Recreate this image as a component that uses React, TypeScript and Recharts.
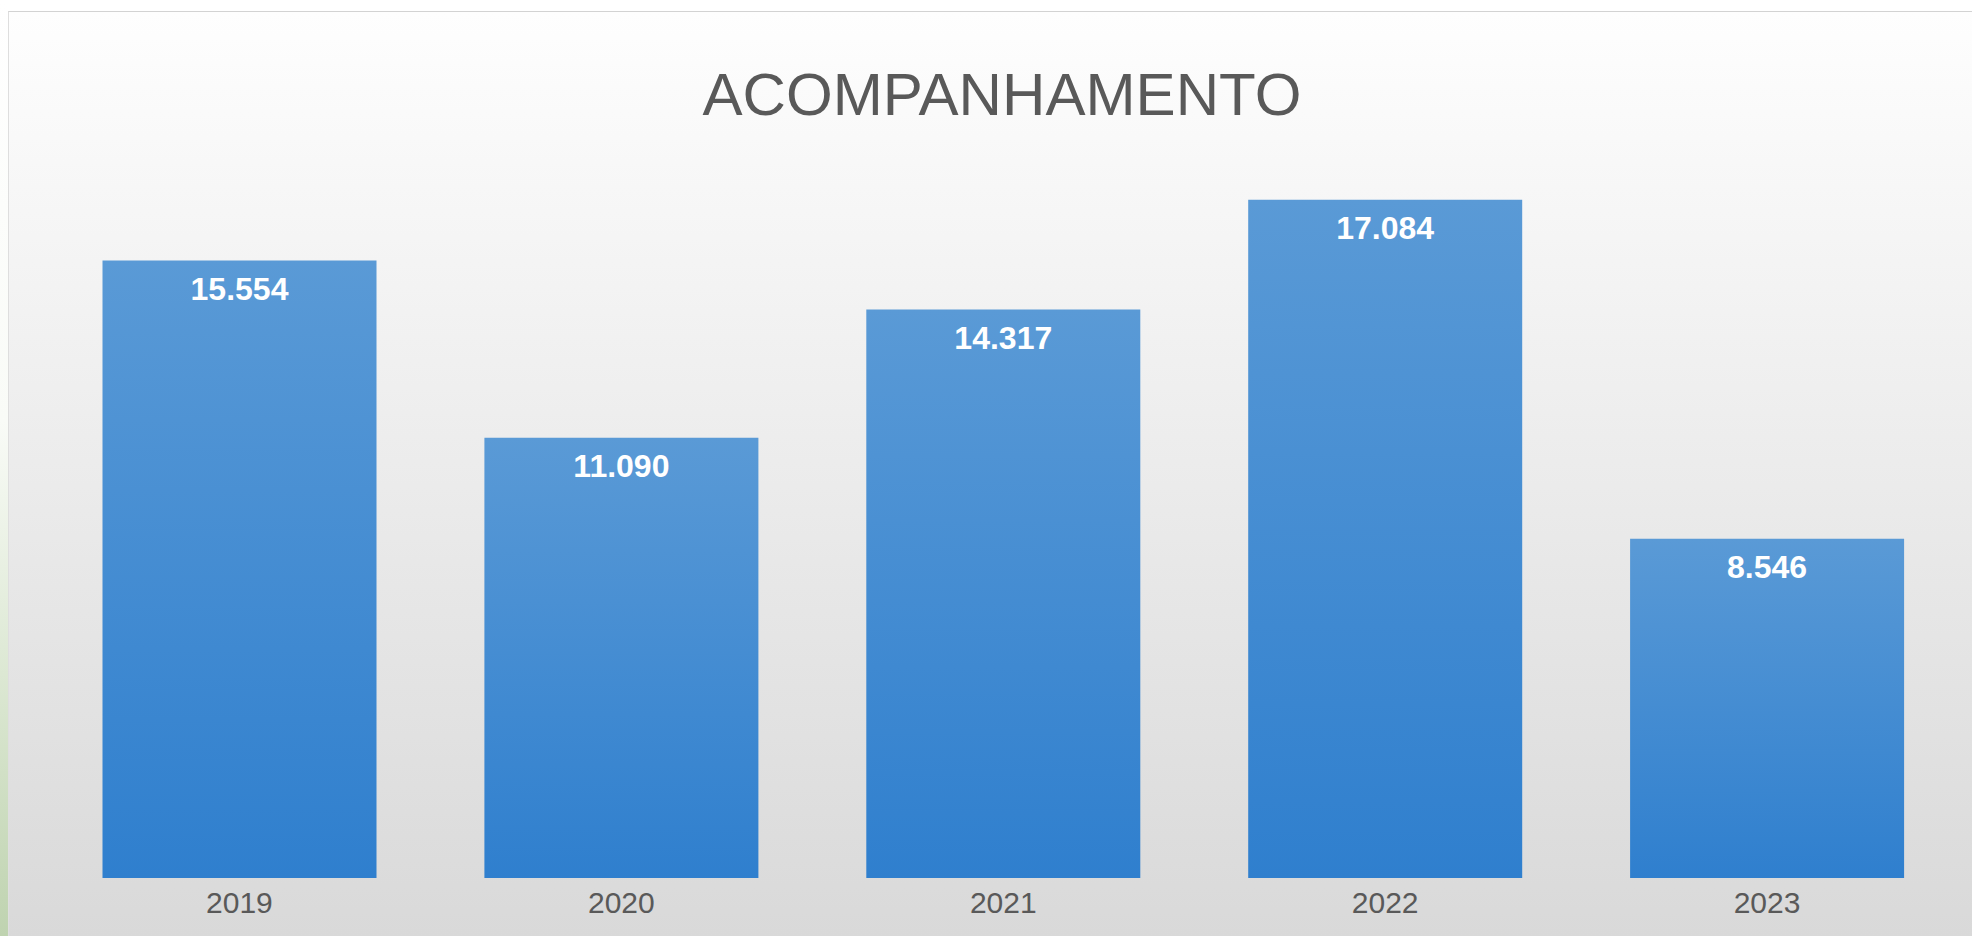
import { BarChart, Bar, XAxis, YAxis, LabelList } from 'recharts'

const years = ['2019', '2020', '2021', '2022', '2023']
const totals = [15554, 11090, 14317, 17084, 8546]

const data = years.map((year, i) => ({ year, total: totals[i] }))

// thousands separator with a dot, e.g. 15554 -> 15.554
const fmt = (v: number) => String(v).replace(/\B(?=(\d{3})+(?!\d))/g, '.')

const FONT = '"Liberation Sans", Arial, sans-serif'

export default function App() {
    return (
        <div style={{ position: 'fixed', left: 0, top: 0, width: 1972, height: 936, background: '#ffffff', overflow: 'hidden' }}>
            {/* green strip on the far left */}
            <div style={{ position: 'absolute', left: 0, top: 0, width: 8, height: 936, background: 'linear-gradient(to bottom, #ffffff 0%, #f9fbf7 45%, #dce8d3 72%, #bfd3b0 100%)' }} />
            <div
                style={{
                    position: 'absolute',
                    left: 8,
                    top: 11,
                    width: 1964,
                    height: 925,
                    borderTop: '1px solid #d3d3d3',
                    borderLeft: '1px solid #dedede',
                    boxSizing: 'border-box',
                    background: 'linear-gradient(to bottom, #fefefe 0%, #d9d9d9 100%)',
                }}
            >
                <svg width={1964} height={925} style={{ position: 'absolute', left: -1, top: -1 }}>
                    <text x={994} y={104} textAnchor="middle" fontFamily={FONT} fontSize={59} fill="#595959" textLength={599} lengthAdjust="spacingAndGlyphs">
                        ACOMPANHAMENTO
                    </text>
                </svg>
                <div style={{ position: 'absolute', left: -1, top: -1 }}>
                    <BarChart width={1964} height={925} data={data} margin={{ top: 73, right: 14, bottom: 0, left: 40.5 }}>
                        <defs>
                            <linearGradient id="barFill" x1="0" y1="0" x2="0" y2="1">
                                <stop offset="0%" stopColor="#5a9ad6" />
                                <stop offset="100%" stopColor="#2f7fce" />
                            </linearGradient>
                        </defs>
                        <XAxis
                            dataKey="year"
                            height={58}
                            axisLine={false}
                            tickLine={false}
                            tickSize={0}
                            tickMargin={14}
                            tick={{ fill: '#595959', fontSize: 30, fontFamily: FONT }}
                        />
                        <YAxis hide domain={[0, 20000]} />
                        <Bar dataKey="total" fill="url(#barFill)" barSize={274} isAnimationActive={false}>
                            <LabelList
                                dataKey="total"
                                position="insideTop"
                                offset={17}
                                formatter={(v: number) => fmt(v)}
                                fill="#ffffff"
                                fontSize={32}
                                fontWeight="bold"
                                fontFamily={FONT}
                            />
                        </Bar>
                    </BarChart>
                </div>
            </div>
        </div>
    )
}
